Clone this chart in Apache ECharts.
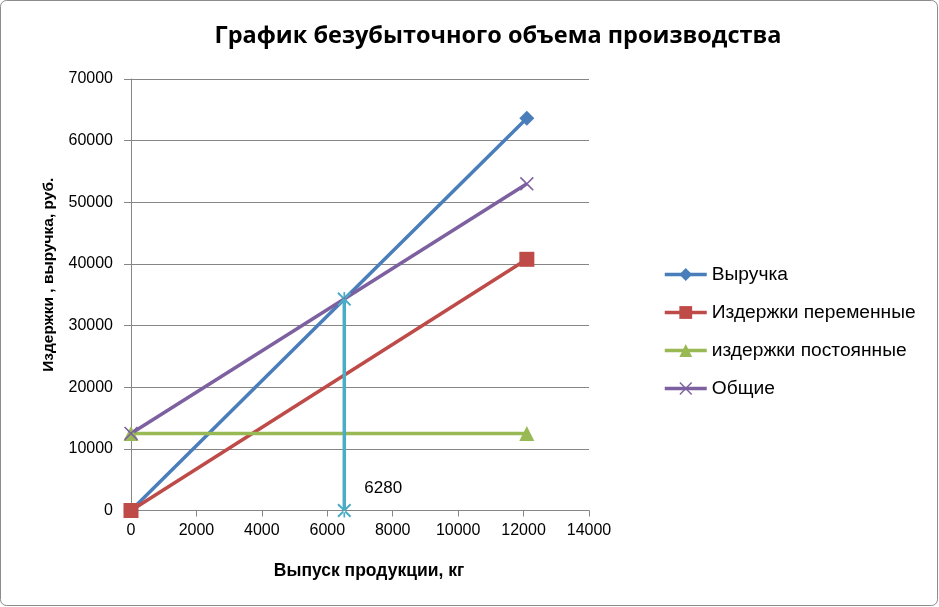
<!DOCTYPE html>
<html><head><meta charset="utf-8">
<script src="https://cdn.jsdelivr.net/npm/echarts@6/dist/echarts.min.js"></script>
<style>html,body{margin:0;padding:0;background:#fff}#c{width:939px;height:607px}</style>
</head><body><div id="c"></div>
<script>
const titleText = 'График безубыточного объема производства';
const xName = 'Выпуск продукции, кг';
const yName = 'Издержки , выручка, руб.';
const seriesNames = ['Выручка', 'Издержки переменные', 'издержки постоянные', 'Общие'];
const xValues = [0, 12100];
const revenue = [0, 63650];
const variableCosts = [0, 40750];
const fixedCosts = [12500, 12500];
const totalCosts = [12500, 53000];
const breakEvenX = [6520, 6520];
const breakEvenY = [0, 34300];
const breakEvenLabel = '6280';

const pairs = (xs, ys) => xs.map((x, i) => [x, ys[i]]);
const xPath = 'path://M0,0.8 L0.8,0 L5,4.2 L9.2,0 L10,0.8 L5.8,5 L10,9.2 L9.2,10 L5,5.8 L0.8,10 L0,9.2 L4.2,5 Z';
const starPath = 'path://M0,1 L1,0 L5,4 L9,0 L10,1 L6,5 L10,9 L9,10 L5,6 L1,10 L0,9 L4,5 Z M4.4,0 L4.4,10 L5.6,10 L5.6,0 Z';
const font = 'Liberation Sans, Arial, sans-serif';
const LW = 3.5;

const chart = echarts.init(document.getElementById('c'), null, {renderer: 'canvas'});
chart.setOption({
  animation: false,
  backgroundColor: '#fff',
  graphic: [{type: 'rect', shape: {x: 0.5, y: 0.5, width: 937, height: 605, r: 6},
    style: {fill: 'none', stroke: '#8c8c8c', lineWidth: 1}, z: -1}],
  title: {text: titleText, left: 493, textAlign: 'center', top: 19,
    textStyle: {fontFamily: 'Open Sans, sans-serif', fontSize: 23.5, fontWeight: 'bold', color: '#000'}},
  legend: {orient: 'vertical', left: 663, top: 265, padding: 0, itemGap: 19, itemWidth: 42, itemHeight: 16,
    data: seriesNames, lineStyle: {width: LW},
    textStyle: {fontFamily: font, fontSize: 19.2, color: '#000'}},
  grid: {left: 131, right: 350, top: 79, bottom: 96.5},
  xAxis: {type: 'value', min: 0, max: 14000, interval: 2000,
    name: xName, nameLocation: 'middle', nameGap: 52,
    nameTextStyle: {fontFamily: font, fontSize: 17.5, fontWeight: 'bold', color: '#000', padding: [0, 0, 0, 18]},
    axisLine: {lineStyle: {color: '#868686', width: 1}},
    axisTick: {show: true, length: 6, lineStyle: {color: '#868686'}},
    axisLabel: {fontFamily: font, fontSize: 16, color: '#000', margin: 12, formatter: v => String(v)},
    splitLine: {show: false}},
  yAxis: {type: 'value', min: 0, max: 70000, interval: 10000,
    name: yName, nameLocation: 'middle', nameGap: 74,
    nameTextStyle: {fontFamily: font, fontSize: 15.5, fontWeight: 'bold', color: '#000', padding: [0, 0, 0, 40]},
    axisLine: {show: true, lineStyle: {color: '#868686', width: 1}},
    axisTick: {show: true, length: 7, lineStyle: {color: '#868686'}},
    axisLabel: {fontFamily: font, fontSize: 16, color: '#000', margin: 18, formatter: v => String(v)},
    splitLine: {lineStyle: {color: '#868686', width: 1}}},
  series: [
    {name: seriesNames[0], type: 'line', data: pairs(xValues, revenue),
     symbol: 'diamond', symbolSize: 15, color: '#4a7ebb', lineStyle: {width: LW}},
    {name: seriesNames[1], type: 'line', data: pairs(xValues, variableCosts),
     symbol: 'rect', symbolSize: 15, color: '#be4b48', lineStyle: {width: LW}},
    {name: seriesNames[2], type: 'line', data: pairs(xValues, fixedCosts),
     symbol: 'triangle', symbolSize: 15, color: '#98b954', lineStyle: {width: LW}},
    {name: seriesNames[3], type: 'line', data: pairs(xValues, totalCosts),
     symbol: xPath, symbolSize: 14, color: '#7d60a0', lineStyle: {width: LW}},
    {name: 'break', type: 'line', data: pairs(breakEvenX, breakEvenY),
     symbol: starPath, symbolSize: 14, color: '#4bacc6', lineStyle: {width: LW},
     label: {show: true, formatter: p => p.dataIndex === 0 ? breakEvenLabel : '',
       position: 'right', offset: [8, -22], fontFamily: font, fontSize: 17, color: '#000'}}
  ]
});
</script></body></html>
